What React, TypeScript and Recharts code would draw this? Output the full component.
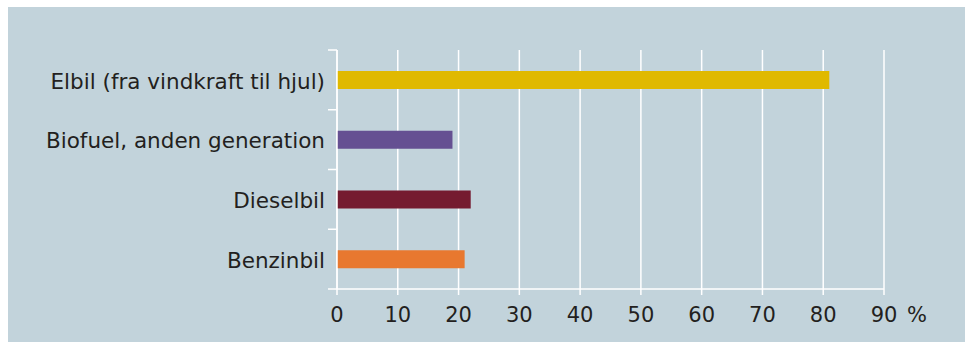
import React from 'react';
import { BarChart, Bar, XAxis, YAxis, CartesianGrid, Cell } from 'recharts';

const categories = [
  'Elbil (fra vindkraft til hjul)',
  'Biofuel, anden generation',
  'Dieselbil',
  'Benzinbil',
];
const values = [81, 19, 22, 21];
const barColors = ['#e0b900', '#655092', '#751b30', '#e8782f'];
const xTicks = [0, 10, 20, 30, 40, 50, 60, 70, 80, 90];

const data = categories.map((name, i) => ({ name, value: values[i] }));

const BG = '#c2d3db';
const TEXT = '#231f20';
const FONT = '"DejaVu Sans", Verdana, sans-serif';

const WIDTH = 957;
const HEIGHT = 335;
const MARGIN = { top: 43, right: 81, bottom: 23, left: 0 };
const X_AXIS_H = 30;
const Y_AXIS_W = 329;
// height of one category band, used to put y tick marks between categories
const BAND = (HEIGHT - MARGIN.top - MARGIN.bottom - X_AXIS_H) / categories.length;

const YTick = (props: any) => {
  const { x, y, payload, index } = props;
  const axisX = x + 12;
  return (
    <g>
      <line x1={axisX - 9} x2={axisX} y1={y - BAND / 2} y2={y - BAND / 2} stroke="#fff" strokeWidth={1.5} />
      {index === categories.length - 1 && (
        <line x1={axisX - 9} x2={axisX} y1={y + BAND / 2} y2={y + BAND / 2} stroke="#fff" strokeWidth={1.5} />
      )}
      <text x={x} y={y + 1} dy="0.355em" textAnchor="end" fill={TEXT} fontSize={21.5} fontFamily={FONT}>
        {payload.value}
      </text>
    </g>
  );
};

const XTick = (props: any) => {
  const { x, y, payload } = props;
  const last = payload.value === xTicks[xTicks.length - 1];
  return (
    <g>
      <text x={x} y={y} dy="0.71em" textAnchor="middle" fill={TEXT} fontSize={21} fontFamily={FONT}>
        {payload.value}
      </text>
      {last && (
        <text x={x + 23} y={y} dy="0.71em" textAnchor="start" fill={TEXT} fontSize={21} fontFamily={FONT}>
          %
        </text>
      )}
    </g>
  );
};

export default function App() {
  return (
    <div style={{ position: 'absolute', left: 8, top: 7, width: WIDTH, height: HEIGHT, background: BG }}>
      <BarChart width={WIDTH} height={HEIGHT} data={data} layout="vertical" margin={MARGIN}>
        <CartesianGrid horizontal={false} stroke="#fff" strokeWidth={1.5} />
        <XAxis
          type="number"
          domain={[0, 90]}
          ticks={xTicks}
          interval={0}
          height={X_AXIS_H}
          axisLine={{ stroke: '#fff', strokeWidth: 1.5 }}
          tickLine={{ stroke: '#fff', strokeWidth: 1.5 }}
          tickSize={6}
          tickMargin={12}
          tick={<XTick />}
        />
        <YAxis
          type="category"
          dataKey="name"
          width={Y_AXIS_W}
          axisLine={{ stroke: '#fff', strokeWidth: 1.5 }}
          tickLine={false}
          tickSize={8}
          tickMargin={4}
          tick={<YTick />}
        />
        <Bar dataKey="value" barSize={18} isAnimationActive={false}>
          {data.map((d, i) => (
            <Cell key={d.name} fill={barColors[i]} />
          ))}
        </Bar>
      </BarChart>
    </div>
  );
}
